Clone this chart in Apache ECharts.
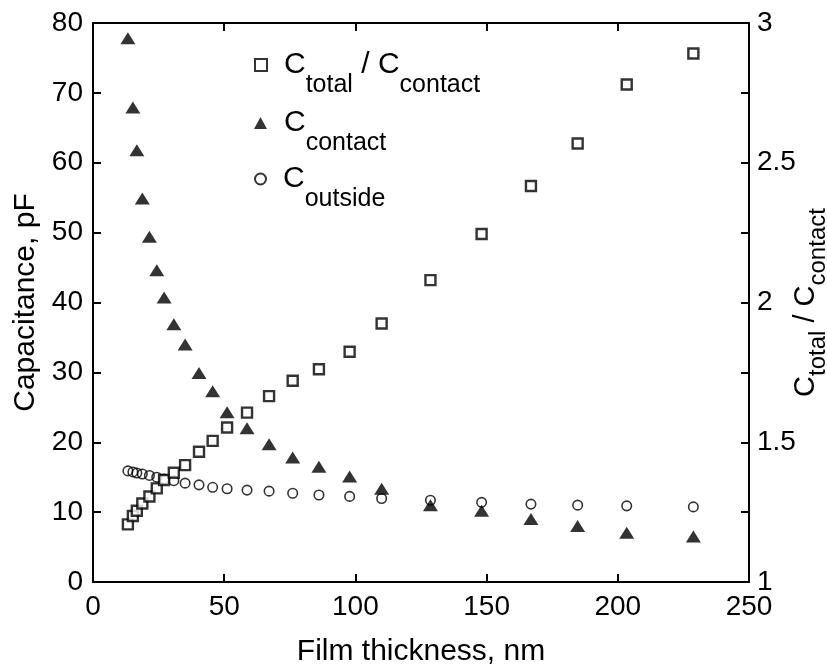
<!DOCTYPE html>
<html>
<head>
<meta charset="utf-8">
<script src="https://cdn.jsdelivr.net/npm/echarts@6/dist/echarts.min.js"></script>
<style>
html,body{margin:0;padding:0;background:#fff;}
#c{width:827px;height:668px;}
</style>
</head>
<body>
<div id="c"></div>
<script>
// Film thickness (nm)
const thickness = [13.3, 15.2, 16.7, 18.8, 21.5, 24.3, 27.1, 30.8, 35.1, 40.4, 45.6, 51.1, 58.7, 67.1, 76.1, 86.1, 97.8, 110.0, 128.6, 148.1, 166.9, 184.7, 203.4, 228.8];
// C_total / C_contact (right axis)
const cRatio = [1.206, 1.236, 1.255, 1.281, 1.306, 1.335, 1.365, 1.391, 1.418, 1.466, 1.505, 1.553, 1.606, 1.665, 1.720, 1.761, 1.824, 1.925, 2.080, 2.245, 2.417, 2.569, 2.780, 2.891];
// C_contact (pF)
const cContact = [77.8, 67.9, 61.8, 54.9, 49.4, 44.6, 40.7, 36.9, 34.0, 29.9, 27.3, 24.3, 22.0, 19.7, 17.8, 16.5, 15.1, 13.35, 11.0, 10.2, 9.0, 8.0, 7.05, 6.5];
// C_outside (pF)
const cOutside = [15.9, 15.75, 15.6, 15.45, 15.25, 15.0, 14.75, 14.5, 14.15, 13.9, 13.55, 13.35, 13.15, 13.0, 12.7, 12.45, 12.25, 11.95, 11.7, 11.4, 11.15, 11.0, 10.9, 10.75];

const xLabels = ['0', '50', '100', '150', '200', '250'];
const leftLabels = ['0', '10', '20', '30', '40', '50', '60', '70', '80'];
const rightLabels = ['1', '1.5', '2', '2.5', '3'];

const FONT = 'Liberation Sans';
const rich = {
  g: {width: 12, fontSize: 10},
  m: {fontSize: 30, fontFamily: FONT, color: '#000', lineHeight: 64, verticalAlign: 'middle'},
  s: {fontSize: 25, fontFamily: FONT, color: '#000', lineHeight: 25, verticalAlign: 'top', padding: [40, 0, 0, 0]}
};
const richAxis = {
  m: {fontSize: 29, fontFamily: FONT, color: '#000', lineHeight: 64, verticalAlign: 'middle'},
  s: {fontSize: 24, fontFamily: FONT, color: '#000', lineHeight: 24, verticalAlign: 'top', padding: [32, 0, 0, 0]}
};

const pairs = arr => thickness.map((x, i) => [x, arr[i]]);

const chart = echarts.init(document.getElementById('c'), null, {renderer: 'canvas'});

function legendFor(name, top, label, iw, ih) {
  return {
    data: [name], top: top, left: 249, orient: 'vertical',
    itemWidth: iw, itemHeight: ih, itemGap: 0,
    formatter: () => label,
    textStyle: {rich: rich, fontFamily: FONT, color: '#000'},
    selectedMode: false
  };
}

const option = {
  animation: false,
  backgroundColor: '#fff',
  grid: {left: 93, right: 78, top: 23, bottom: 86, containLabel: false, outerBoundsMode: 'none'},
  legend: [
    legendFor('ratio', 28, '{g|}{m|C}{s|total}{m| / C}{s|contact}', 12, 12),
    legendFor('contact', 86, '{g|}{m|C}{s|contact}', 13, 12),
    legendFor('outside', 142, '{g|}{m|C}{s|outside}', 11, 11)
  ],
  xAxis: [
    {
      type: 'value', min: 0, max: 250, interval: 50, position: 'bottom',
      name: 'Film thickness, nm', nameLocation: 'middle', nameGap: 55,
      nameTextStyle: {fontSize: 30, fontFamily: FONT, color: '#000'},
      axisLine: {show: true, onZero: false, lineStyle: {color: '#000', width: 2}},
      axisTick: {show: true, inside: true, length: 8, lineStyle: {color: '#000', width: 2}},
      axisLabel: {fontSize: 28, fontFamily: FONT, color: '#000', margin: 11,
        formatter: (v) => { const i = Math.round(v / 50); return xLabels[i] !== undefined ? xLabels[i] : ''; }},
      splitLine: {show: false}
    },
    {
      type: 'value', min: 0, max: 250, interval: 50, position: 'top',
      axisLine: {show: true, onZero: false, lineStyle: {color: '#000', width: 2}},
      axisTick: {show: true, inside: true, length: 8, lineStyle: {color: '#000', width: 2}},
      axisLabel: {show: false}, splitLine: {show: false}
    }
  ],
  yAxis: [
    {
      type: 'value', min: 0, max: 80, interval: 10, position: 'left',
      name: 'Capacitance, pF', nameLocation: 'middle', nameGap: 49, nameRotate: 90,
      nameTextStyle: {fontSize: 30, fontFamily: FONT, color: '#000'},
      axisLine: {show: true, onZero: false, lineStyle: {color: '#000', width: 2}},
      axisTick: {show: true, inside: true, length: 8, lineStyle: {color: '#000', width: 2}},
      axisLabel: {fontSize: 28, fontFamily: FONT, color: '#000', margin: 10,
        formatter: (v) => { const i = Math.round(v / 10); return leftLabels[i] !== undefined ? leftLabels[i] : ''; }},
      splitLine: {show: false}
    },
    {
      type: 'value', min: 1, max: 3, interval: 0.25, position: 'right',
      name: '{m|C}{s|total}{m| / C}{s|contact}', nameLocation: 'middle', nameGap: 25, nameRotate: 90,
      nameMoveOverlap: false,
      nameTextStyle: {rich: richAxis, fontFamily: FONT, color: '#000'},
      axisLine: {show: true, onZero: false, lineStyle: {color: '#000', width: 2}},
      axisTick: {show: true, inside: true, length: 8, lineStyle: {color: '#000', width: 2}},
      axisLabel: {fontSize: 28, fontFamily: FONT, color: '#000', margin: 8,
        formatter: (v) => { const k = Math.round((v - 1) / 0.5 * 1000) / 1000; return Number.isInteger(k) ? rightLabels[k] : ''; }},
      splitLine: {show: false}
    }
  ],
  series: [
    {
      name: 'ratio', type: 'scatter', xAxisIndex: 0, yAxisIndex: 1,
      symbol: 'rect', symbolSize: 10,
      itemStyle: {color: '#fff', borderColor: '#000', borderWidth: 2.4},
      data: pairs(cRatio), z: 3
    },
    {
      name: 'contact', type: 'scatter', xAxisIndex: 0, yAxisIndex: 0,
      symbol: 'triangle', symbolSize: [15, 12],
      itemStyle: {color: '#000', borderColor: '#000', borderWidth: 0},
      data: pairs(cContact), z: 4
    },
    {
      name: 'outside', type: 'scatter', xAxisIndex: 0, yAxisIndex: 0,
      symbol: 'circle', symbolSize: 9.5,
      itemStyle: {color: 'rgba(255,255,255,0)', borderColor: '#000', borderWidth: 1.6},
      data: pairs(cOutside), z: 2
    }
  ]
};
chart.setOption(option);
</script>
</body>
</html>
